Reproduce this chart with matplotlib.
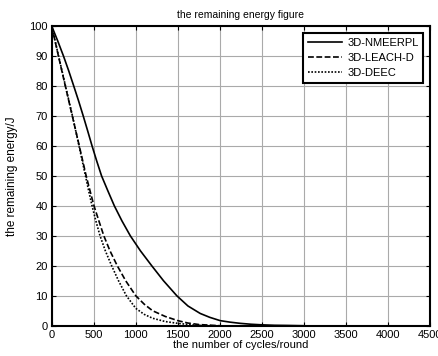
import matplotlib
matplotlib.use("Agg")
import matplotlib.pyplot as plt

plt.rcParams['font.family'] = ['Liberation Sans', 'DejaVu Sans']

# Remaining energy per protocol (rounds, joules)
nmeerpl_rounds = [0, 72, 140, 203, 262, 320, 375, 428, 480, 535, 593, 668, 745, 835, 935, 1055,
                  1190, 1330, 1488, 1620, 1766, 1880, 2004, 2120, 2242, 2370, 2500, 2650, 2800, 3000]
nmeerpl_energy = [100, 95, 90, 85, 80, 75, 70, 65, 60, 55, 50, 45, 40, 35, 30, 25,
                  20, 15, 10, 6.6, 4.1, 2.8, 1.7, 1.2, 0.8, 0.5, 0.3, 0.15, 0.1, 0]

leach_rounds = [0, 80, 162, 245, 328, 410, 456, 503, 561, 620, 693, 780, 880, 1000, 1100, 1200,
                1350, 1500, 1620, 1750, 2000]
leach_energy = [100, 90, 80, 70, 60, 50, 45, 40, 35, 30, 25, 20, 15, 10, 7.2, 5,
                3.1, 1.7, 0.9, 0.4, 0]

deec_rounds = [0, 82, 164, 247, 325, 402, 440, 480, 525, 575, 638, 713, 795, 888, 1000, 1100,
               1200, 1350, 1500, 1700, 1900]
deec_energy = [100, 90, 80, 70, 60, 50, 45, 40, 35, 30, 25, 20, 15, 10, 5.8, 3.8,
               2.5, 1.4, 0.8, 0.2, 0]

series_labels = ['3D-NMEERPL', '3D-LEACH-D', '3D-DEEC']
x_ticks = list(range(0, 4501, 500))
y_ticks = list(range(0, 101, 10))

fig = plt.figure(figsize=(4.38, 3.56), dpi=100)
ax = fig.add_axes([0.118, 0.085, 0.864, 0.842])

ax.plot(nmeerpl_rounds, nmeerpl_energy, color='black', linestyle='-', linewidth=1.2, label=series_labels[0])
ax.plot(leach_rounds, leach_energy, color='black', linestyle=(0, (3.5, 1.5)), linewidth=1.2, label=series_labels[1])
ax.plot(deec_rounds, deec_energy, color='black', linestyle=(0, (1, 1)), linewidth=1.2, label=series_labels[2])

ax.set_xlim(0, 4500)
ax.set_ylim(0, 100)
ax.set_xticks(x_ticks)
ax.set_yticks(y_ticks)
ax.grid(True, color='#aaaaaa', linewidth=0.8)
ax.set_axisbelow(True)
ax.tick_params(direction='in', top=True, right=True, labelsize=8, length=3, width=0.8, pad=3)
for sp in ax.spines.values():
    sp.set_linewidth(1.5)

ax.set_title('the remaining energy figure', fontsize=7.5, pad=6)
ax.set_xlabel('the number of cycles/round', fontsize=8, labelpad=0)
ax.set_ylabel('the remaining energy/J', fontsize=8.5, labelpad=8)

leg = ax.legend(loc='upper right', fontsize=8, frameon=True, fancybox=False,
                edgecolor='black', framealpha=1, handlelength=3.0, borderaxespad=0.6,
                labelspacing=0.45, handletextpad=0.5, borderpad=0.45)
leg.get_frame().set_linewidth(1.5)

fig.savefig('out.png', dpi=100)
